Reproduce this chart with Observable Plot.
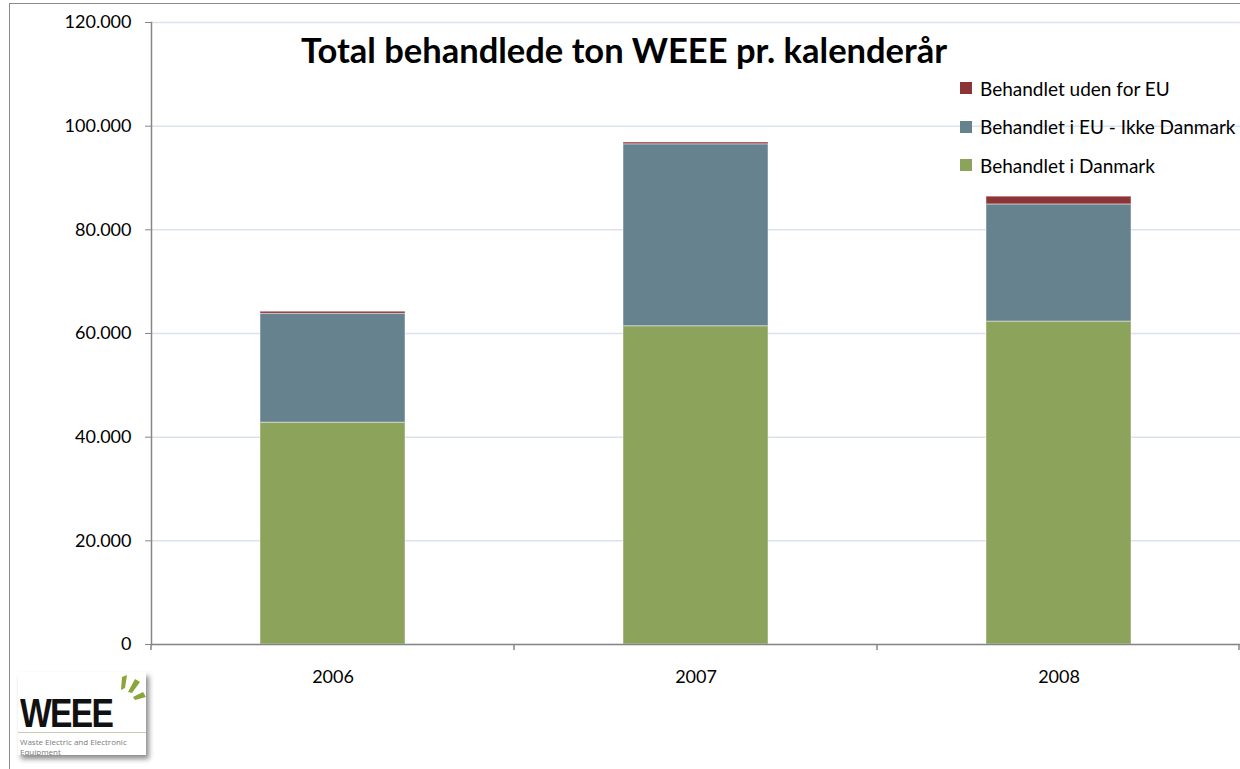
<!DOCTYPE html>
<html><head><meta charset="utf-8">
<script src="https://cdn.jsdelivr.net/npm/d3@7"></script>
<script src="https://cdn.jsdelivr.net/npm/@observablehq/plot@0.6"></script>
<style>
body{margin:0;background:#fff;font-family:Lato,"Open Sans",sans-serif;}
#wrap{position:relative;width:1240px;height:769px;overflow:hidden;background:#fff;}
#frame{position:absolute;left:9px;top:3px;width:1400px;height:900px;border:1.5px solid #8a8a8a;box-sizing:border-box;}
#chart{position:absolute;left:0;top:0;}
#title{position:absolute;left:0;width:1248px;text-align:center;top:29px;font:bold 34.5px Lato,sans-serif;color:#000;}
#legend{position:absolute;left:960px;top:69px;font:19px Lato,sans-serif;color:#000;}
#legend .row{display:flex;align-items:center;height:38.5px;}
#legend .sw{width:12px;height:12px;margin-right:8px;}
#logo{position:absolute;left:18px;top:672px;width:128px;height:83px;background:#fff;box-shadow:3px 4px 5px rgba(0,0,0,0.45);overflow:hidden;}
#logo .w{position:absolute;left:2px;top:26px;height:30px;font:900 40px/30px "Liberation Sans",Arial,sans-serif;letter-spacing:-2px;transform:scaleX(0.84);transform-origin:left top;color:#111;}
#logo .ln{position:absolute;left:0;top:60px;width:128px;height:1px;background:#c9cdb0;}
#logo .t{position:absolute;left:2px;top:65px;font:8px/9.5px "Open Sans",sans-serif;color:#7a7a7a;}
#logo svg{position:absolute;left:90px;top:0;}
</style></head>
<body>
<div id="wrap">
  <div id="frame"></div>
  <div id="chart"></div>
  <div id="title">Total behandlede ton WEEE pr. kalenderår</div>
  <div id="legend"></div>
  <div id="logo">
    <svg width="40" height="45" viewBox="0 0 40 45">
      <polygon points="14,5 19,3 17,16 13,18" fill="#8aa53a"/>
      <polygon points="27,7 32,10 24,21 20,20" fill="#8aa53a"/>
      <polygon points="35,20 38,25 27,28 25,25" fill="#8aa53a"/>
    </svg>
    <div class="w">WEEE</div>
    <div class="ln"></div>
    <div class="t">Waste Electric and Electronic<br>Equipment</div>
  </div>
</div>
<script>
const years = ["2006", "2007", "2008"];
const seriesNames = ["Behandlet i Danmark", "Behandlet i EU - Ikke Danmark", "Behandlet uden for EU"];
const behandletDanmark = [42800, 61400, 62300];
const behandletEU = [21000, 35100, 22600];
const behandletUdenforEU = [400, 350, 1500];
const seriesColors = ["#8ba35a", "#67828f", "#8b3538"];
const yTicks = [0, 20000, 40000, 60000, 80000, 100000, 120000];

const seriesValues = [behandletDanmark, behandletEU, behandletUdenforEU];
const rows = [];
years.forEach((year, i) => {
  seriesNames.forEach((s, j) => rows.push({year, series: s, value: seriesValues[j][i]}));
});

const fmt = d => d3.format(",")(d).replace(/,/g, ".");

const chart = Plot.plot({
  width: 1240,
  height: 769,
  marginLeft: 151,
  marginRight: 0,
  marginTop: 22,
  marginBottom: 125,
  style: {fontFamily: "Lato, sans-serif", fontSize: "18px", color: "#000", background: "transparent"},
  x: {type: "band", domain: years, paddingInner: 0.6, paddingOuter: 0.3, axis: null},
  y: {domain: [0, 120000], axis: null},
  color: {domain: seriesNames, range: seriesColors},
  marks: [
    Plot.gridY(yTicks, {stroke: "#dbe1ee", strokeOpacity: 1, strokeWidth: 1.5}),
    Plot.barY(rows, Plot.stackY({x: "year", y: "value", fill: "series", order: seriesNames, stroke: "#ffffff", strokeOpacity: 0.45, strokeWidth: 1})),
    Plot.axisY(yTicks, {tickFormat: fmt, tickSize: 6, tickPadding: 14, fontSize: 18, label: null, stroke: "#868686", color: "#000"}),
    Plot.frame({anchor: "left", stroke: "#868686", strokeWidth: 1.5}),
    Plot.ruleY([0], {stroke: "#868686", strokeWidth: 1.5}),
    Plot.axisX({tickSize: 0, tickPadding: 26, fontSize: 18, label: null}),
    (index, scales, values, dims) => {
      const g = d3.create("svg:g");
      const n = years.length;
      const x0 = dims.marginLeft, x1 = dims.width - dims.marginRight;
      const y0 = dims.height - dims.marginBottom;
      d3.range(n + 1).forEach(k => {
        const x = x0 + (x1 - x0) * k / n - (k === n ? 1 : 0);
        g.append("line").attr("x1", x).attr("x2", x).attr("y1", y0).attr("y2", y0 + 6)
          .attr("stroke", "#868686").attr("stroke-width", 1.5);
      });
      return g.node();
    }
  ]
});
document.getElementById("chart").appendChild(chart);

const legend = document.getElementById("legend");
[2, 1, 0].forEach(j => {
  const r = document.createElement("div");
  r.className = "row";
  r.innerHTML = `<div class="sw" style="background:${seriesColors[j]}"></div><span>${seriesNames[j]}</span>`;
  legend.appendChild(r);
});
</script>
</body></html>
